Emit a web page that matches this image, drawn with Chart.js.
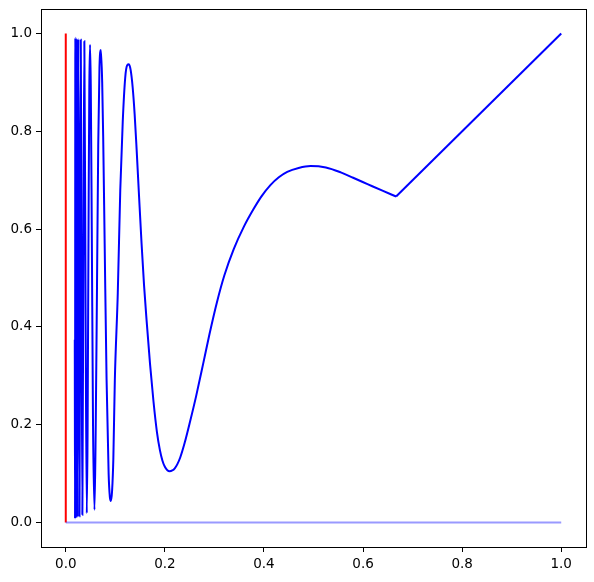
<!DOCTYPE html>
<html>
<head>
<meta charset="utf-8">
<script src="https://cdn.jsdelivr.net/npm/chart.js@4"></script>
<style>
html,body{margin:0;padding:0;background:#fff;}
#wrap{width:594px;height:582px;position:relative;}
</style>
</head>
<body>
<div id="wrap"><canvas id="c" width="594" height="582"></canvas></div>
<script>
// Oscillating curve
const curveX = [0.0182,0.0187,0.0193,0.0205,0.0220,0.0236,0.0254,0.0277,0.0290,0.0303,0.0318,0.0335,0.0355,0.0375,0.0400,0.0424,0.0440,0.0460,0.0475,0.0490,0.0505,0.0525,0.0550,0.0580,0.0605,0.0630,0.0655,0.0680,0.0709,0.0735,0.0755,0.0785,0.0823,0.0865,0.0890,0.0911,0.0935,0.0960,0.0990,0.1050,0.1100,0.1150,0.1200,0.1240,0.1275,0.1310,0.1350,0.1390,0.1430,0.1480,0.1530,0.1580,0.1630,0.1700,0.1770,0.1840,0.1900,0.1950,0.2000,0.2050,0.2095,0.2150,0.2200,0.2250,0.2310,0.2400,0.2510,0.2630,0.2780,0.2900,0.3050,0.3200,0.3390,0.3600,0.3790,0.3950,0.4130,0.4300,0.4470,0.4700,0.4940,0.5250,0.5550,0.5800,0.6090,0.6380,0.6667];
const curveY = [0.374,0.008,0.991,0.009,0.990,0.011,0.989,0.013,0.55,0.987,0.50,0.016,0.55,0.984,0.44,0.019,0.18,0.62,0.89,0.977,0.89,0.60,0.20,0.026,0.20,0.48,0.77,0.93,0.966,0.90,0.79,0.57,0.295,0.10,0.052,0.044,0.065,0.13,0.29,0.47,0.68,0.82,0.91,0.935,0.937,0.925,0.89,0.835,0.763,0.665,0.570,0.485,0.415,0.325,0.248,0.185,0.148,0.127,0.114,0.107,0.105,0.1065,0.111,0.119,0.133,0.163,0.207,0.258,0.328,0.385,0.450,0.505,0.559,0.606,0.641,0.667,0.690,0.706,0.717,0.725,0.729,0.726,0.716,0.705,0.692,0.679,0.6667];
// Straight segment at the end
const lineX = [0.6667, 1.0];
const lineY = [0.6667, 1.0];
// Red vertical segment
const redX = [0, 0];
const redY = [0, 1];
// Faint baseline
const baseX = [0, 1];
const baseY = [0, 0];
// Tick values
const xTicks = [0, 0.2, 0.4, 0.6, 0.8, 1.0];
const yTicks = [0, 0.2, 0.4, 0.6, 0.8, 1.0];

const pts = (xs, ys) => xs.map((x, i) => ({x: x, y: ys[i]}));

const frame = {
  id: 'frame',
  afterDraw(chart) {
    const a = chart.chartArea, ctx = chart.ctx;
    ctx.save();
    ctx.strokeStyle = '#000';
    ctx.lineWidth = 1;
    ctx.strokeRect(Math.round(a.left) + 0.5, Math.round(a.top) + 0.5, Math.round(a.right - a.left), Math.round(a.bottom - a.top));
    ctx.restore();
  }
};

const font = {family: 'DejaVu Sans', size: 13.5};

new Chart(document.getElementById('c'), {
  type: 'scatter',
  data: {
    datasets: [
      {data: pts(curveX, curveY), showLine: true, borderColor: '#0000ff', borderWidth: 2, pointRadius: 0, cubicInterpolationMode: 'monotone', order: 0},
      {data: pts(lineX, lineY), showLine: true, borderColor: '#0000ff', borderWidth: 2, pointRadius: 0, tension: 0, order: 0},
      {data: pts(baseX, baseY), showLine: true, borderColor: 'rgba(0,0,255,0.4)', borderWidth: 2, pointRadius: 0, tension: 0, order: 1},
      {data: pts(redX, redY), showLine: true, borderColor: '#ff0000', borderWidth: 2, pointRadius: 0, tension: 0, order: 2}
    ]
  },
  options: {
    responsive: false,
    animation: false,
    devicePixelRatio: 1,
    layout: {padding: {left: 0, top: 9, right: 8, bottom: 0}},
    plugins: {legend: {display: false}, tooltip: {enabled: false}},
    scales: {
      x: {
        type: 'linear', min: -0.05, max: 1.05,
        afterBuildTicks: s => { s.ticks = xTicks.map(v => ({value: v})); },
        afterFit: s => { s.height = 35; s.paddingLeft = 0; s.paddingRight = 0; },
        grid: {drawOnChartArea: false, drawTicks: true, tickLength: 5, color: '#000'},
        border: {display: true, color: '#000'},
        ticks: {color: '#000', font: font, padding: 4, maxRotation: 0, callback: v => Number(v).toFixed(1)}
      },
      y: {
        type: 'linear', min: -0.05, max: 1.05,
        afterBuildTicks: s => { s.ticks = yTicks.map(v => ({value: v})); },
        afterFit: s => { s.width = 41; s.paddingTop = 0; s.paddingBottom = 0; },
        grid: {drawOnChartArea: false, drawTicks: true, tickLength: 5, color: '#000'},
        border: {display: true, color: '#000'},
        ticks: {color: '#000', font: font, padding: 4, callback: v => Number(v).toFixed(1)}
      }
    }
  },
  plugins: [frame]
});
</script>
</body>
</html>
